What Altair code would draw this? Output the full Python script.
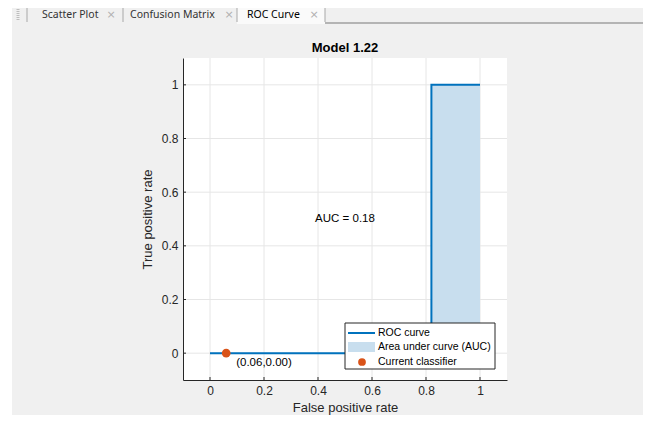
import altair as alt
import pandas as pd

# ---- data ----
roc_fpr = [0.0, 0.82, 0.82, 1.0]
roc_tpr = [0.0, 0.0, 1.0, 1.0]
point_fpr = [0.06]
point_tpr = [0.00]
auc_value = 0.18
auc_pos = [0.5, 0.5]
x_ticks = [0, 0.2, 0.4, 0.6, 0.8, 1]
y_ticks = [0, 0.2, 0.4, 0.6, 0.8, 1]
legend_labels = ["ROC curve", "Area under curve (AUC)", "Current classifier"]
tab_labels = ["Scatter Plot", "Confusion Matrix", "ROC Curve"]
chart_title = "Model 1.22"

# ---- layout ----
W, H = 324, 322
PAD_L, PAD_T = 175, 50
TOTAL_W, TOTAL_H = 635, 407
PAD_R = TOTAL_W - PAD_L - W
PAD_B = TOTAL_H - PAD_T - H
OX, OY = 8 + PAD_L, 8 + PAD_T


def X(a):
    return a - OX


def Y(a):
    return a - OY


FONT = "Liberation Sans"
UIFONT = "Noto Sans"
LINE_C = "#0072BD"
AREA_C = "#C8DEEE"
PT_C = "#D95319"
AX_C = "#262626"
GRID_C = "#E6E6E6"

roc_df = pd.DataFrame({"fpr": roc_fpr, "tpr": roc_tpr, "idx": list(range(len(roc_fpr)))})
# area under the step curve: one rectangle per horizontal segment of the ROC curve
seg = [
    {"x0": roc_fpr[i], "x1": roc_fpr[i + 1], "y0": 0.0, "y1": roc_tpr[i]}
    for i in range(len(roc_fpr) - 1)
    if roc_fpr[i + 1] > roc_fpr[i] and roc_tpr[i] > 0
]
area_df = pd.DataFrame(seg)
pt_df = pd.DataFrame({"fpr": point_fpr, "tpr": point_tpr})
pt_df["label"] = [f"({a:.2f},{b:.2f})" for a, b in zip(point_fpr, point_tpr)]
auc_df = pd.DataFrame({"fpr": [auc_pos[0]], "tpr": [auc_pos[1]], "label": [f"AUC = {auc_value:.2f}"]})
xt_df = pd.DataFrame({"v": x_ticks})
yt_df = pd.DataFrame({"v": y_ticks})
dummy = pd.DataFrame({"d": [0]})

xscale = alt.Scale(domain=[-0.1, 1.1], nice=False, zero=False)
yscale = alt.Scale(domain=[-0.1, 1.1], nice=False, zero=False)

xaxis = alt.Axis(values=x_ticks, format="~g", grid=False, ticks=False, tickSize=0,
                 domainColor=AX_C, labelColor=AX_C, labelFont=FONT, labelFontSize=12,
                 labelPadding=5, title="False positive rate", titleFont=FONT, titleFontSize=13,
                 titleFontWeight="normal", titleColor=AX_C, titlePadding=5, zindex=1)
yaxis = alt.Axis(values=y_ticks, format="~g", grid=False, ticks=False, tickSize=0,
                 domainColor=AX_C, labelColor=AX_C, labelFont=FONT, labelFontSize=12,
                 labelPadding=5, title="True positive rate", titleFont=FONT, titleFontSize=13,
                 titleFontWeight="normal", titleColor=AX_C, titlePadding=7, zindex=1)


def vrect(x1, x2, y1, y2, **kw):
    return alt.Chart(dummy).mark_rect(**kw).encode(
        x=alt.value(X(x1)), x2=alt.value(X(x2)), y=alt.value(Y(y1)), y2=alt.value(Y(y2)))


def vrule(x1, x2, y1, y2, **kw):
    return alt.Chart(dummy).mark_rule(**kw).encode(
        x=alt.value(X(x1)), x2=alt.value(X(x2)), y=alt.value(Y(y1)), y2=alt.value(Y(y2)))


def vtext(x, y, txt, **kw):
    return alt.Chart(dummy).mark_text(baseline="middle", **kw).encode(
        x=alt.value(X(x)), y=alt.value(Y(y)), text=alt.value(txt))


RIGHT = 8 + TOTAL_W
layers = []
# background panel
layers.append(vrect(12, RIGHT, 8, 8 + TOTAL_H, color="#F0F0F0"))
# tabs
layers.append(vrect(237, 325, 7, 24, color="#FAFAFA"))
layers.append(vrule(18, 18, 9, 21, color="#BDBDBD", strokeWidth=3, strokeDash=[1, 1]))
for sx in [27, 123, 237, 325]:
    layers.append(vrule(sx, sx, 8, 22, color="#A8A8A8", strokeWidth=1))
layers.append(vrule(325, RIGHT, 23, 23, color="#A0A0A0", strokeWidth=1.5))
tab_x = [42, 130, 247]
close_x = [111, 229, 314]
for i, (lab, tx, cx) in enumerate(zip(tab_labels, tab_x, close_x)):
    layers.append(vtext(tx, 15, lab, align="left", font=UIFONT, fontSize=10.5,
                        color="#000000" if i == 2 else "#333333"))
    layers.append(vtext(cx, 15, "\u00d7", align="center", font="DejaVu Sans", fontSize=11,
                        color="#B0B0B0"))

# title
layers.append(vtext(OX + W / 2, 48, chart_title, align="center", font=FONT, fontSize=13,
                    fontWeight="bold", color="#000000"))

# plot area
layers.append(alt.Chart(dummy).mark_rect(color="white").encode(
    x=alt.value(0), x2=alt.value(W), y=alt.value(0), y2=alt.value(H)))

# grid lines
layers.append(alt.Chart(xt_df).mark_rule(color=GRID_C, strokeWidth=1).encode(
    x=alt.X("v:Q", scale=xscale, axis=xaxis), y=alt.value(0), y2=alt.value(H)))
layers.append(alt.Chart(yt_df).mark_rule(color=GRID_C, strokeWidth=1).encode(
    y=alt.Y("v:Q", scale=yscale, axis=yaxis), x=alt.value(0), x2=alt.value(W)))

# area + roc line
layers.append(alt.Chart(area_df).mark_rect(color=AREA_C, opacity=1).encode(
    x=alt.X("x0:Q", scale=xscale), x2="x1:Q",
    y=alt.Y("y0:Q", scale=yscale), y2="y1:Q"))
layers.append(alt.Chart(roc_df).mark_line(color=LINE_C, strokeWidth=2).encode(
    x=alt.X("fpr:Q", scale=xscale), y=alt.Y("tpr:Q", scale=yscale), order=alt.Order("idx:Q")))

# current classifier
layers.append(alt.Chart(pt_df).mark_circle(color=PT_C, size=75, opacity=1).encode(
    x=alt.X("fpr:Q", scale=xscale), y=alt.Y("tpr:Q", scale=yscale)))
layers.append(alt.Chart(pt_df).mark_text(align="left", baseline="middle", dx=10, dy=10,
                                         font=FONT, fontSize=11.5, color="#000000").encode(
    x=alt.X("fpr:Q", scale=xscale), y=alt.Y("tpr:Q", scale=yscale), text="label:N"))

# AUC label
layers.append(alt.Chart(auc_df).mark_text(align="center", baseline="middle",
                                          font=FONT, fontSize=11.5, color="#000000").encode(
    x=alt.X("fpr:Q", scale=xscale), y=alt.Y("tpr:Q", scale=yscale), text="label:N"))

# inward ticks
layers.append(alt.Chart(xt_df).mark_rule(color=AX_C, strokeWidth=1).encode(
    x=alt.X("v:Q", scale=xscale), y=alt.value(H), y2=alt.value(H - 3)))
layers.append(alt.Chart(yt_df).mark_rule(color=AX_C, strokeWidth=1).encode(
    y=alt.Y("v:Q", scale=yscale), x=alt.value(0), x2=alt.value(3)))

# legend box
layers.append(vrect(345, 495, 323, 369, fill="white", stroke=AX_C, strokeWidth=1))
layers.append(vrule(348, 375, 333, 333, color=LINE_C, strokeWidth=2))
layers.append(vrect(348, 375, 342, 352, color=AREA_C))
layers.append(alt.Chart(dummy).mark_circle(color=PT_C, size=60, opacity=1).encode(
    x=alt.value(X(362)), y=alt.value(Y(362))))
for lab, ly in zip(legend_labels, [333, 347, 362]):
    layers.append(vtext(378, ly, lab, align="left", font=FONT, fontSize=10.5, color="#000000"))

chart = alt.layer(*layers).properties(
    width=W, height=H,
    padding={"left": PAD_L, "top": PAD_T, "right": PAD_R, "bottom": PAD_B},
    autosize=alt.AutoSizeParams(type="none"),
    background="white",
).configure_view(stroke=None, fill=None)

chart.save("out.html", embed_options={"renderer": "svg", "actions": False})
